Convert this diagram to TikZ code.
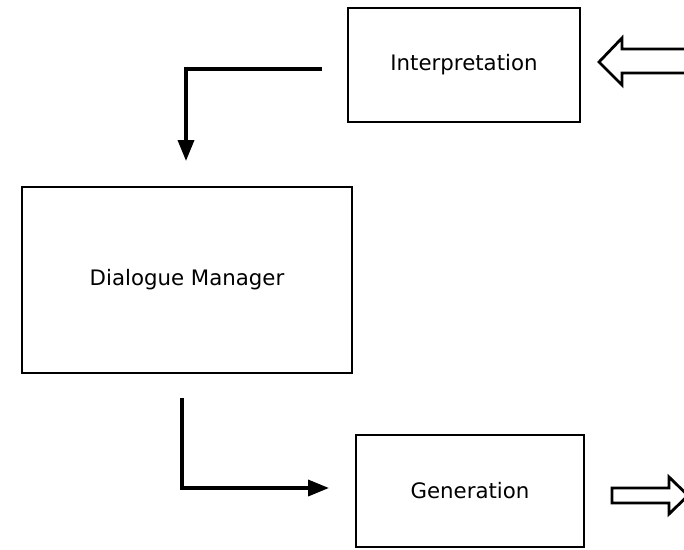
\documentclass[tikz,border=0pt]{standalone}
\usepackage{fontspec}
\setmainfont{DejaVu Sans}
\usetikzlibrary{arrows.meta}
\begin{document}
\begin{tikzpicture}[x=1pt,y=-1pt,
  module/.style={draw,line width=2.5pt,inner sep=0pt,font=\fontsize{21.3}{25}\selectfont},
  flow/.style={line width=3.6pt,-{Triangle[length=21pt,width=16pt]}},
  bigarrow/.style={draw,line width=2.8pt,line join=miter,fill=white}]
\useasboundingbox (0,0) rectangle (684,549);
% modules
\node[module,minimum width=232pt,minimum height=114pt] (interp) at (464,65) {Interpretation};
\node[module,minimum width=330pt,minimum height=186pt] (dm) at (187,280) {Dialogue Manager};
\node[module,minimum width=228pt,minimum height=112pt] (gen) at (470,491) {Generation};
% internal flow
\coordinate (inA) at (322,69);
\coordinate (inB) at (186,161);
\draw[flow] (inA) -| (inB);
\coordinate (outA) at (182,398);
\coordinate (outB) at (329,488);
\draw[flow] (outA) |- (outB);
% external input and output arrows
\begin{scope}
\clip (0,0) rectangle (684,549);
\draw[bigarrow] (700,49) -- (622,49) -- (622,38) -- (599,62) -- (622,85) -- (622,73) -- (700,73) ;
\draw[bigarrow] (612,488) -- (669,488) -- (669,477) -- (688,495.5) -- (669,514) -- (669,503) -- (612,503) -- cycle;
\end{scope}
\end{tikzpicture}
\end{document}
